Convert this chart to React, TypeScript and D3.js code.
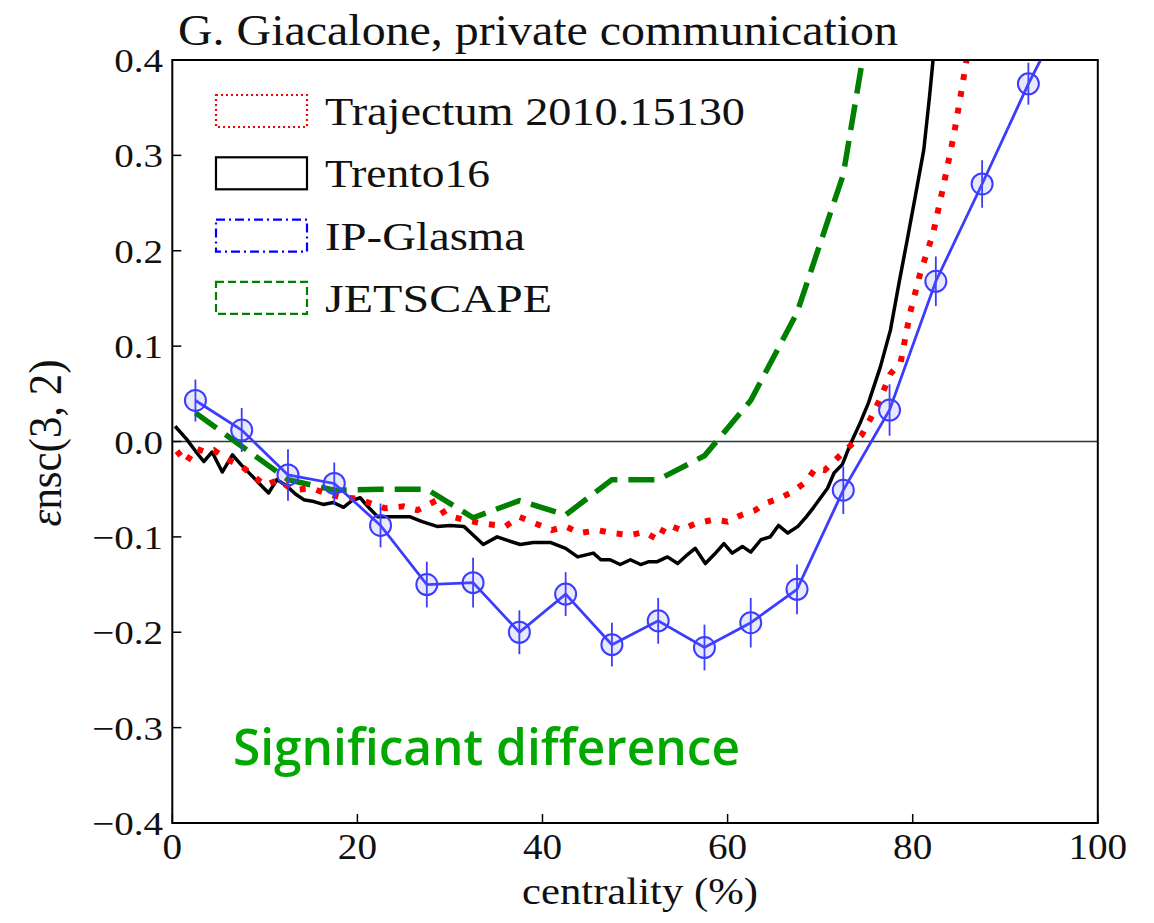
import React from "react";
import * as d3 from "d3";

// centrality bins (IP-Glasma points, 5% wide)
const ipCent = [2.5, 7.5, 12.5, 17.5, 22.5, 27.5, 32.5, 37.5, 42.5, 47.5, 52.5, 57.5, 62.5, 67.5, 72.5, 77.5, 82.5, 87.5, 92.5, 97.5];
const ipVal = [0.043, 0.012, -0.035, -0.044, -0.088, -0.150, -0.148, -0.200, -0.160, -0.213, -0.188, -0.216, -0.190, -0.155, -0.051, 0.033, 0.168, 0.270, 0.375, 0.47];
const ipErr = [0.022, 0.023, 0.027, 0.022, 0.023, 0.024, 0.026, 0.023, 0.023, 0.023, 0.024, 0.024, 0.026, 0.026, 0.025, 0.027, 0.026, 0.025, 0.022, 0.022];

// Trento16 (black solid)
const trentoCent = [0.3, 1.5, 2.5, 3.4, 4.3, 5.4, 6.5, 7.5, 8.5, 9.5, 10.4, 11.3, 12.4, 13.3, 14.2, 15.3, 16.3, 17.4, 18.5, 19.4, 20.3, 21.2, 22.2, 23.5, 24.6, 25.7, 27, 28.6, 30, 31.5, 32.5, 33.6, 35.1, 36.3, 37.6, 39, 40.9, 42.5, 43.8, 45.5, 46.3, 47.3, 48.4, 49.5, 50.6, 51.5, 52.4, 53.5, 54.6, 55.5, 56.5, 57.6, 58.6, 59.6, 60.5, 61.6, 62.5, 63.6, 64.6, 65.5, 66.5, 67.6, 68.5, 69.3, 70.8, 71.5, 72.4, 73.3, 74.3, 75.2, 76.5, 77.6, 78.5, 79.4, 80.3, 81.2, 81.8, 82.2, 82.8];
const trentoVal = [0.016, 0.003, -0.010, -0.021, -0.011, -0.032, -0.014, -0.025, -0.035, -0.045, -0.054, -0.040, -0.047, -0.055, -0.061, -0.063, -0.066, -0.064, -0.069, -0.062, -0.059, -0.069, -0.079, -0.079, -0.079, -0.079, -0.084, -0.089, -0.088, -0.089, -0.098, -0.108, -0.100, -0.104, -0.108, -0.106, -0.106, -0.112, -0.121, -0.117, -0.124, -0.124, -0.129, -0.124, -0.129, -0.126, -0.126, -0.121, -0.128, -0.120, -0.112, -0.128, -0.118, -0.107, -0.117, -0.110, -0.116, -0.103, -0.100, -0.088, -0.096, -0.089, -0.079, -0.069, -0.049, -0.033, -0.024, -0.002, 0.019, 0.040, 0.078, 0.117, 0.165, 0.211, 0.258, 0.306, 0.360, 0.400, 0.460];

// Trajectum 2010.15130 (red dotted)
const trajCent = [0.5, 1.5, 2.5, 3.5, 4.5, 6, 7.5, 9, 10, 11.5, 13, 15, 16.5, 18, 20, 21.5, 23, 25, 26.5, 28.5, 29.5, 31.5, 33.5, 36, 37.5, 39.5, 41, 42.5, 44, 46, 47.5, 49.5, 51, 52.5, 53.3, 54, 55, 56.5, 58.5, 60, 61.5, 63, 64, 65.5, 67, 68.5, 69.5, 70.5, 72, 73.3, 74.5, 75.5, 76.5, 77.6, 78.7, 79.7, 80.8, 82.2, 83.3, 84.4, 85.1, 85.7, 86.5];
const trajVal = [-0.010, -0.022, -0.007, -0.011, -0.009, -0.019, -0.026, -0.038, -0.046, -0.040, -0.051, -0.049, -0.054, -0.058, -0.060, -0.065, -0.070, -0.068, -0.072, -0.062, -0.077, -0.082, -0.086, -0.089, -0.079, -0.087, -0.093, -0.089, -0.096, -0.093, -0.096, -0.098, -0.095, -0.103, -0.088, -0.089, -0.093, -0.086, -0.082, -0.084, -0.077, -0.072, -0.065, -0.060, -0.053, -0.042, -0.028, -0.030, -0.016, -0.004, 0.007, 0.025, 0.045, 0.071, 0.083, 0.134, 0.176, 0.218, 0.267, 0.319, 0.358, 0.393, 0.44];

// JETSCAPE (green dashed)
const jetCent = [2.5, 7.5, 12.5, 17.5, 22.5, 27.5, 32.5, 37.5, 42.5, 47.5, 52.5, 57.5, 62.5, 67.5, 72.5, 77.5];
const jetVal = [0.030, -0.005, -0.040, -0.051, -0.050, -0.050, -0.080, -0.062, -0.077, -0.040, -0.040, -0.015, 0.043, 0.135, 0.280, 0.570];

const xTicks = [0, 20, 40, 60, 80, 100];
const yTicks = [-0.4, -0.3, -0.2, -0.1, 0.0, 0.1, 0.2, 0.3, 0.4];

const legendNames = ["Trajectum 2010.15130", "Trento16", "IP-Glasma", "JETSCAPE"];
const legendColors = ["#ff0000", "#000000", "#0000ff", "#008000"];
const legendDash = ["2 3", "none", "9 4 2 4", "8 4"];
const legendWidths = [420, 165, 200, 227];

const SERIF = "'Liberation Serif', 'Times New Roman', serif";

export default function App() {
  const x = d3.scaleLinear().domain([0, 100]).range([172.3, 1097.8]);
  const y = d3.scaleLinear().domain([-0.4, 0.4]).range([823, 60]);
  const line = d3.line<[number, number]>().x(d => x(d[0])).y(d => y(d[1]));
  const fmt = d3.format(".1f");

  const trento = d3.zip(trentoCent, trentoVal) as [number, number][];
  const traj = d3.zip(trajCent, trajVal) as [number, number][];
  const jet = d3.zip(jetCent, jetVal) as [number, number][];
  const ip = d3.zip(ipCent, ipVal) as [number, number][];

  const [x0, x1] = x.range();
  const [yb, yt] = y.range();

  return (
    <div style={{ position: "absolute", left: 0, top: 0 }}>
      <svg width={1154} height={923} style={{ display: "block", background: "#fff" }}>
        <defs>
          <clipPath id="plotclip">
            <rect x={x0} y={yt} width={x1 - x0} height={yb - yt} />
          </clipPath>
        </defs>

        {/* title */}
        <text x={178} y={45} fontFamily={SERIF} fontSize={44} fill="#111"
          textLength={720} lengthAdjust="spacingAndGlyphs">G. Giacalone, private communication</text>

        {/* zero line */}
        <line x1={x0} x2={x1} y1={y(0)} y2={y(0)} stroke="#333" strokeWidth={1.4} />

        <g clipPath="url(#plotclip)" fill="none">
          <path d={line(trento) || ""} stroke="#000" strokeWidth={3.5} strokeLinejoin="round" />
          <path d={line(jet) || ""} stroke="#008000" strokeWidth={5.5} strokeDasharray="26 11" />
          <path d={line(traj) || ""} stroke="#ff0000" strokeWidth={6} strokeDasharray="6 11" />
          <path d={line(ip) || ""} stroke="#3c3cff" strokeWidth={2.8} />
          {ip.map((d, i) => (
            <line key={"e" + i} x1={x(d[0])} x2={x(d[0])} y1={y(d[1] - ipErr[i])} y2={y(d[1] + ipErr[i])}
              stroke="#3c3cff" strokeWidth={1.8} />
          ))}
          {ip.map((d, i) => (
            <circle key={"m" + i} cx={x(d[0])} cy={y(d[1])} r={10.5}
              fill="rgba(110,110,255,0.16)" stroke="#3c3cff" strokeWidth={2} />
          ))}
        </g>

        {/* axes frame */}
        <rect x={x0} y={yt} width={x1 - x0} height={yb - yt} fill="none" stroke="#000" strokeWidth={2} />

        {/* y ticks */}
        {yTicks.map(t => (
          <g key={"y" + t}>
            <line x1={x0} x2={x0 + 9} y1={y(t)} y2={y(t)} stroke="#000" strokeWidth={1.5} />
            <text transform={`translate(163,${y(t) + 12}) scale(1.15,1)`} textAnchor="end"
              fontFamily={SERIF} fontSize={34} fill="#111">{fmt(t)}</text>
          </g>
        ))}

        {/* x ticks */}
        {xTicks.map(t => (
          <g key={"x" + t}>
            <line x1={x(t)} x2={x(t)} y1={yb} y2={yb - 9} stroke="#000" strokeWidth={1.5} />
            <text transform={`translate(${x(t)},859) scale(1.12,1)`} textAnchor="middle"
              fontFamily={SERIF} fontSize={35} fill="#111">{t}</text>
          </g>
        ))}

        {/* axis labels */}
        <text x={640} y={904} textAnchor="middle" fontFamily={SERIF} fontSize={38} fill="#111"
          textLength={236} lengthAdjust="spacingAndGlyphs">centrality (%)</text>
        <text transform={`translate(61,443) rotate(-90)`} textAnchor="middle" fontFamily={SERIF}
          fontSize={46} fill="#111" textLength={167} lengthAdjust="spacingAndGlyphs">
          <tspan fontStyle="italic">ε</tspan>nsc(3, 2)
        </text>

        {/* legend */}
        {legendNames.map((name, i) => {
          const top = 95 + i * 62.3;
          return (
            <g key={name}>
              <rect x={216} y={top} width={91} height={32} fill="none" stroke={legendColors[i]}
                strokeWidth={2.2} strokeDasharray={legendDash[i]} />
              <text x={325} y={top + 30} fontFamily={SERIF} fontSize={39} fill="#111"
                textLength={legendWidths[i]} lengthAdjust="spacingAndGlyphs">{name}</text>
            </g>
          );
        })}

        {/* annotation */}
        <text x={233} y={765} fontFamily="'Open Sans', 'Noto Sans', sans-serif" fontSize={50}
          fontWeight={600} fill="#00a800" textLength={507} lengthAdjust="spacingAndGlyphs">Significant difference</text>
      </svg>
    </div>
  );
}
